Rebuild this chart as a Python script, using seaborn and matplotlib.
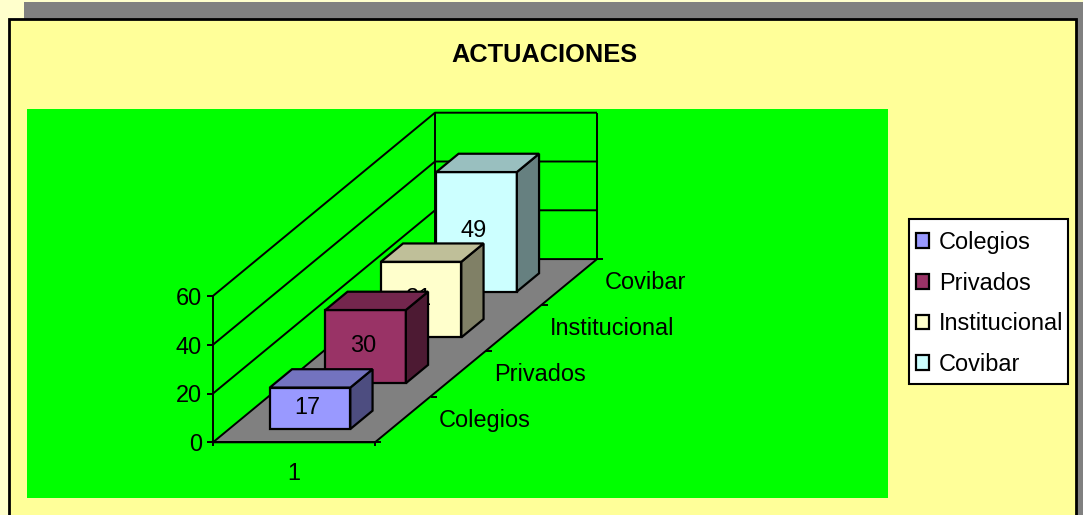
import numpy as np
import pandas as pd
import matplotlib
matplotlib.use('Agg')
import matplotlib.pyplot as plt
from matplotlib.colors import to_rgb
from matplotlib.patches import Polygon, Rectangle
import seaborn as sns

# Data
series = ['Colegios', 'Privados', 'Institucional', 'Covibar']
values = [17, 30, 31, 49]
group = ['1', '1', '1', '1']
colors = ['#9999ff', '#993366', '#ffffcc', '#ccffff']
y_ticks = [0, 20, 40, 60]

W, H = 1083, 515
FONT = 16.9

# Oblique projection, depth vector per category in data units of the front axes
PX_X = 162.0
PX_Y = 146.4 / 60
DEPTH_X = 55.5 / PX_X
DEPTH_Y = 45.8 / PX_Y


def proj(x, v, d):
    """Front-plane data coordinates of a point at depth d"""
    return (x + d * DEPTH_X, v + d * DEPTH_Y)


def shade(color, factor):
    return tuple(c * factor for c in to_rgb(color))


sns.set_theme(style='white')
plt.rcParams['font.family'] = ['Liberation Sans', 'DejaVu Sans']

fig = plt.figure(figsize=(W / 100, H / 100), dpi=100, facecolor='#ffffcc')

# Page background, in pixel coordinates
bg = fig.add_axes([0, 0, 1, 1])
bg.set_xlim(0, W)
bg.set_ylim(H, 0)
bg.axis('off')
bg.add_patch(Rectangle((23.5, 2), W, H, fc='#808080', ec='none'))
bg.add_patch(Rectangle((8.5, 18.5), 1067.5, H, fc='#ffff99', ec='black', lw=2))
bg.add_patch(Rectangle((27, 109), 861, 389, fc='#00ff00', ec='none'))
bg.add_patch(Rectangle((908.5, 218.5), 159.5, 165, fc='white', ec='black', lw=1.5))
bg.text(544, 55, 'ACTUACIONES', fontsize=18.3, fontweight='bold',
        ha='center', va='center', color='black')

# Front plane of the 3D box
ax = fig.add_axes([213 / W, (H - 442.3) / H, PX_X / W, 146.4 / H])
ax.patch.set_visible(False)

df = pd.DataFrame({'grupo': group, 'serie': series, 'valor': values})
sns.barplot(
    data=df, x='grupo', y='valor', hue='serie', hue_order=series,
    palette=colors, dodge=False, width=0.497, saturation=1,
    edgecolor='black', linewidth=1.6, ax=ax
)
ax.set_xlim(-0.5, 0.5)
ax.set_ylim(0, 60)
ax.set_xlabel('')
ax.set_ylabel('')
ax.set_yticks(y_ticks)
ax.set_xticks([0])
ax.set_xticklabels(['1'])
ax.tick_params(axis='y', length=4, width=1.4, color='black', pad=4,
               labelsize=FONT, left=True, labelcolor='black')
ax.tick_params(axis='x', length=0, pad=14, labelsize=FONT, labelcolor='black')
sns.despine(ax=ax)
for side in ['left', 'bottom']:
    ax.spines[side].set_color('black')
    ax.spines[side].set_linewidth(1.4)
    ax.spines[side].set_zorder(1.6)

xl, xr = ax.get_xlim()
n = len(series)
LINE = dict(color='black', lw=1.4, clip_on=False, solid_capstyle='butt')

# Walls and floor
for tick in y_ticks[1:]:
    a, b, c = proj(xl, tick, 0), proj(xl, tick, n), proj(xr, tick, n)
    ax.plot([a[0], b[0], c[0]], [a[1], b[1], c[1]], zorder=1, **LINE)
for x in [xl, xr]:
    a, b = proj(x, 0, n), proj(x, y_ticks[-1], n)
    ax.plot([a[0], b[0]], [a[1], b[1]], zorder=1, **LINE)
ax.add_patch(Polygon(
    [proj(xl, 0, 0), proj(xr, 0, 0), proj(xr, 0, n), proj(xl, 0, n)],
    fc='#808080', ec='black', lw=1.4, zorder=1.5, clip_on=False
))

# Bottom ticks at the ends of the front edge
for x in [xl, xr]:
    ax.plot([x, x], [0, -1.6], zorder=1.6, **LINE)

# Depth ticks and category names
for i in range(n + 1):
    a = proj(xr, 0, i)
    ax.plot([a[0], a[0] + 6 / PX_X], [a[1], a[1]], zorder=1.6, **LINE)
for i, name in enumerate(series):
    ax.annotate(name, xy=proj(xr, 0, i + 0.5), xytext=(25.9, -0.7),
                textcoords='offset points', ha='left', va='center',
                fontsize=FONT, color='black', annotation_clip=False)

# Bars: the seaborn rectangle is the front face, side and top come from it
for i, (container, color) in enumerate(zip(ax.containers, colors)):
    bar = container[0]
    x0 = bar.get_x()
    x1 = x0 + bar.get_width()
    v = bar.get_height()
    d0, d1 = i + 0.29, i + 0.69
    z = 2 + (n - i)

    fx, fy = proj(x0, 0, d0)
    bar.set_x(fx)
    bar.set_y(fy)
    bar.set_zorder(z)
    bar.set_clip_on(False)
    bar.set_joinstyle('miter')

    ax.add_patch(Polygon(
        [proj(x1, 0, d0), proj(x1, 0, d1), proj(x1, v, d1), proj(x1, v, d0)],
        fc=shade(color, 0.5), ec='black', lw=1.6, zorder=z, clip_on=False
    ))
    ax.add_patch(Polygon(
        [proj(x0, v, d0), proj(x1, v, d0), proj(x1, v, d1), proj(x0, v, d1)],
        fc=shade(color, 0.75), ec='black', lw=1.6, zorder=z, clip_on=False
    ))
    lx, ly = proj((x0 + x1) / 2, v / 2, d0)
    ax.text(lx - 0.016, ly + 0.5, f'{v:.0f}', ha='center', va='center',
            fontsize=FONT, color='black', zorder=z + 0.1, clip_on=False)

# Legend, its box is drawn on the background axes
handles = [c[0] for c in ax.containers]
leg = ax.legend(
    handles, series, loc='upper left', bbox_to_anchor=(916 / W, (H - 231) / H),
    bbox_transform=fig.transFigure, fontsize=FONT, frameon=False, borderaxespad=0,
    handlelength=0.57, handleheight=0.57, handletextpad=0.42, labelspacing=0.75,
    borderpad=0, labelcolor='black'
)
leg.set_zorder(20)

fig.savefig('out.png', dpi=100)
plt.close(fig)
